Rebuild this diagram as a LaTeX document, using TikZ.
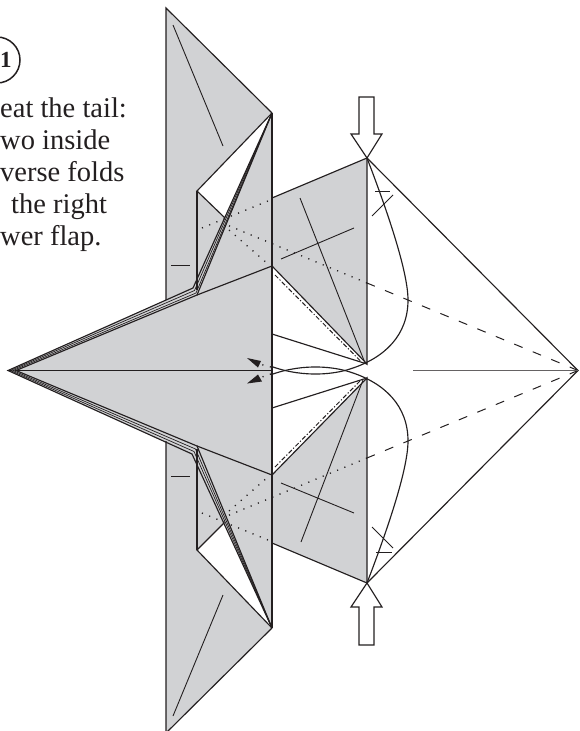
\documentclass[tikz,border=0pt]{standalone}
\usepackage{fontspec}
\setmainfont{Liberation Serif}
\definecolor{papergray}{HTML}{D1D2D4}
\definecolor{inkline}{HTML}{231F20}
\begin{document}
\begin{tikzpicture}[
        x=1pt, y=-1pt,
        edge/.style={inkline, line width=1.15pt, line join=miter},
        band/.style={inkline, line width=0.7pt},
        crease/.style={inkline, line width=0.9pt},
        dotline/.style={inkline, line width=1.3pt, dash pattern=on 1.2pt off 6.6pt},
        dashline/.style={inkline, line width=1pt, dash pattern=on 9pt off 11pt},
        dashdot/.style={inkline, line width=1pt, dash pattern=on 4.5pt off 2pt on 1.2pt off 2pt},
        hollow/.style={draw=inkline, fill=white, line width=1.15pt, line join=miter},
        tiptri/.style={fill=inkline},
        caption/.style={anchor=north west, align=left, inner sep=0pt,
          font=\fontsize{28.5}{32}\selectfont, text=inkline}
      ]
        \useasboundingbox (0,0) rectangle (579,731);
        % key points
        \coordinate (wingT) at (166,8);
        \coordinate (wingB) at (166,733);
        \coordinate (hingeT) at (272,113);
        \coordinate (hingeB) at (272,628);
        \coordinate (tip) at (8,370.5);
        \coordinate (tipin) at (16,370.5);
        \coordinate (bandTa) at (193,288);
        \coordinate (bandTb) at (197,295);
        \coordinate (bandBa) at (192,454);
        \coordinate (bandBb) at (197,446);
        \coordinate (bodyT) at (272,266);
        \coordinate (bodyB) at (272,475);
        \coordinate (flapT) at (367,158);
        \coordinate (flapB) at (367,583);
        \coordinate (pleatT) at (367,364);
        \coordinate (pleatB) at (367,378);
        \coordinate (nose) at (578,370.5);
        % paper
        \fill[papergray] (wingT) -- (hingeT) -- (bodyT) -- (bandTb) -- (bandTa) -- (166,300) -- cycle;
        \fill[papergray] (wingB) -- (hingeB) -- (bodyB) -- (bandBb) -- (bandBa) -- (166,441) -- cycle;
        \fill[white] (197,191) -- (hingeT) -- (225,218) -- cycle;
        \fill[white] (197,550) -- (hingeB) -- (224,523) -- cycle;
        \fill[papergray] (272,198) -- (flapT) -- (pleatT) -- (bodyT) -- cycle;
        \fill[papergray] (272,543) -- (flapB) -- (pleatB) -- (bodyB) -- cycle;
        \fill[papergray] (tip) -- (bandTa) -- (bandTb) -- (bodyT) -- (bodyB) -- (bandBb) -- (bandBa) -- cycle;
        % wings
        \draw[edge] (166,300) -- (wingT) -- (hingeT);
        \draw[edge] (166,441) -- (wingB) -- (hingeB);
        \draw[edge] (hingeT) -- (197,191) -- (225,218);
        \draw[edge] (hingeB) -- (197,550) -- (224,523);
        \draw[edge] (197,191) -- (197,290);
        \draw[edge] (197,550) -- (197,449);
        % bands of the tail
        \draw[edge] (hingeT) -- (bandTa) -- (tip) -- (bandBa) -- (hingeB);
        \draw[band] (hingeT) -- (194.5,290.5) -- (10.5,370.5) -- (194,451.5) -- (hingeB);
        \draw[band] (hingeT) -- (196,293) -- (13,370.5) -- (195.5,449) -- (hingeB);
        \draw[edge] (hingeT) -- (bandTb) -- (tipin) -- (bandBb) -- (hingeB);
        \draw[edge] (bandTb) -- (bodyT);
        \draw[edge] (bandBb) -- (bodyB);
        \draw[edge] (tipin) -- (272,370.5);
        \draw[inkline, line width=2.2pt] (hingeT) -- (hingeB);
        % right flaps
        \draw[edge] (272,198) -- (flapT) -- (pleatT) -- (bodyT);
        \draw[edge] (272,543) -- (flapB) -- (pleatB) -- (bodyB);
        \draw[edge] (272,334) -- (pleatT);
        \draw[edge] (272,408) -- (pleatB);
        \draw[edge] (flapT) -- (nose) -- (flapB);
        \draw[edge] (flapT) .. controls (385,205) and (408,270) .. (408,300)
          .. controls (408,335) and (385,358) .. (350,369)
          .. controls (335,374) and (305,378) .. (273,367);
        \draw[edge] (flapB) .. controls (385,536) and (408,471) .. (408,441)
          .. controls (408,406) and (385,383) .. (350,372)
          .. controls (335,367) and (305,363) .. (273,374);
        % fold lines
        \draw[dashline] (nose) -- (367,283);
        \draw[dashline] (nose) -- (367,458);
        \draw[dotline] (367,283) -- (227,225);
        \draw[dotline] (367,458) -- (227,516);
        \draw[dotline] (268,201) -- (197,230);
        \draw[dotline] (268,540) -- (197,511);
        \draw[dotline] (229,230) -- (268,264);
        \draw[dotline] (229,511) -- (268,477);
        \draw[dashdot] (275,275) -- (361,361.5);
        \draw[dashdot] (275,467) -- (360,381);
        % hints on the paper
        \draw[crease] (173,25) -- (223,146);
        \draw[crease] (173,716) -- (223,595);
        \draw[crease] (171,265) -- (190,265);
        \draw[crease] (171,476) -- (190,476);
        \draw[crease] (300,198) -- (365,363);
        \draw[crease] (301,542) -- (363,380);
        \draw[crease] (281,259) -- (354,228);
        \draw[crease] (281,483) -- (354,513);
        \draw[crease] (375,191) -- (390,191);
        \draw[crease] (372,216) -- (393,195);
        \draw[crease] (376,552) -- (392,552);
        \draw[crease] (372,527) -- (393,548);
        \draw[inkline!70, line width=1.2pt] (413,370.5) -- (nose);
        % small arrows in the middle
        \draw[dotline] (271,367) -- (259,364);
        \draw[dotline] (271,374) -- (259,378);
        \fill[tiptri] (247,358) -- (261,361) -- (258,367.5) -- cycle;
        \fill[tiptri] (247,383.5) -- (258,374.5) -- (262,381.5) -- cycle;
        % hollow arrows
        \draw[hollow] (flapT) -- (351,134) -- (359,134) -- (359,97) -- (374,97) -- (374,134) -- (382,134) -- cycle;
        \draw[hollow] (flapB) -- (351,607) -- (359,607) -- (359,645) -- (374,645) -- (374,607) -- (382,607) -- cycle;
        % step text
        \node[draw=inkline, circle, line width=1.5pt, minimum size=46pt] (stepring) at (-3,60) {};
        \node[font=\fontsize{23}{23}\selectfont\bfseries, text=inkline, inner sep=0pt] (stepnum) at (6,60) {1};
        \node[caption] (stepnote) at (0,98) {eat the tail:\\wo inside\\verse folds\\\hspace*{11pt}the right\\wer flap.};
      \end{tikzpicture}
\end{document}
